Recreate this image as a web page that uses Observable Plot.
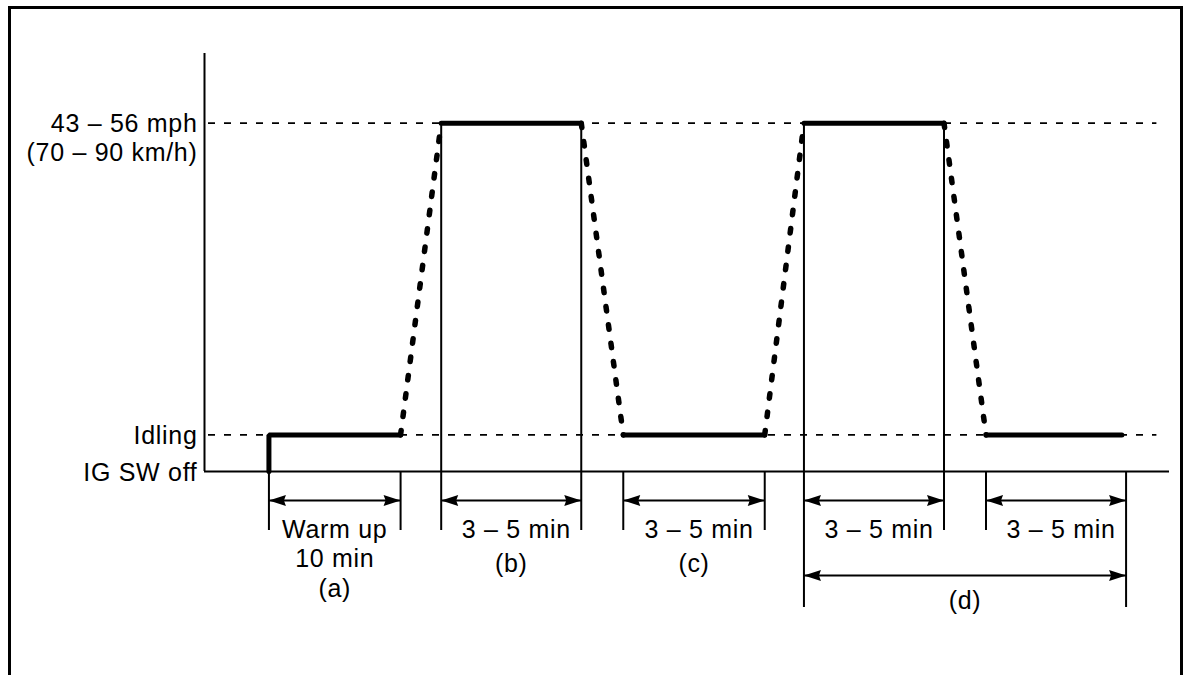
<!DOCTYPE html>
<html><head><meta charset="utf-8">
<script src="https://cdn.jsdelivr.net/npm/d3@7"></script>
<script src="https://cdn.jsdelivr.net/npm/@observablehq/plot@0.6"></script>
<style>
html,body{margin:0;padding:0;background:#fff;overflow:hidden;width:1184px;height:675px;}
#chart{position:absolute;left:0;top:0;}
#chart svg text{letter-spacing:0.7px;}
#frame{position:absolute;left:8px;top:6px;width:1175px;height:720px;border:3px solid #000;border-bottom:none;box-sizing:border-box;pointer-events:none;}
</style></head><body>
<div id="chart"></div><div id="frame"></div>
<script>
// ---- data ----
const levelLabels = ["IG SW off", "Idling", "43 – 56 mph\n(70 – 90 km/h)"];
const levelValues = [0, 8.4, 80];
const refLevels = [8.4, 80];
const profileTime  = [4.6, 4.6, 14.0, 16.9, 26.9, 29.9, 40.0, 42.8, 52.8, 55.8, 65.5];
const profileSpeed = [0, 8.4, 8.4, 80, 80, 8.4, 8.4, 80, 80, 8.4, 8.4];
const spanStart = [4.6, 16.9, 29.9, 42.8, 55.8, 42.8];
const spanEnd   = [14.0, 26.9, 40.0, 52.8, 65.8, 65.8];
const spanRow   = [1, 1, 1, 1, 1, 2];
const spanDuration = ["Warm up\n10 min", "3 – 5 min", "3 – 5 min", "3 – 5 min", "3 – 5 min", ""];
const spanPhase    = ["(a)", "(b)", "(c)", "", "", "(d)"];
const timeMax = 68.9, speedMax = 96, refEnd = 68.0;

// ---- layout ----
const W = 1184, H = 675, mL = 204, mR = 15, mT = 53, mB = 204;
const FS = 25;
const pxPerUnit = (H - mT - mB) / speedMax;
const below = px => -px / pxPerUnit;
const rowArrowPx = {1: 29, 2: 104};
const rowTickPx  = {1: 59, 2: 136};
const durBaselinePx = 66;

const pts = profileTime.map((t, i) => ({t, v: profileSpeed[i]}));
const segs = d3.pairs(pts).map(([a, b]) => ({x1: a.t, y1: a.v, x2: b.t, y2: b.v,
  ramp: a.v > 0 && b.v > 0 && a.v !== b.v}));
let g = 0; const solidPts = [];
segs.forEach(s => {
  if (s.ramp) { g++; return; }
  if (!solidPts.length || solidPts[solidPts.length - 1].g !== g) solidPts.push({t: s.x1, v: s.y1, g});
  solidPts.push({t: s.x2, v: s.y2, g});
});

const spans = spanStart.map((s, i) => ({s, e: spanEnd[i], row: spanRow[i],
  dur: spanDuration[i], phase: spanPhase[i], mid: (s + spanEnd[i]) / 2}));

const edgeMap = new Map();
spans.forEach(d => [d.s, d.e].forEach(t => {
  const px = rowTickPx[d.row];
  const prev = edgeMap.get(t);
  const high = pts.some(p => p.t === t && p.v === levelValues[2]);
  edgeMap.set(t, {t, top: high ? levelValues[2] : 0, bottom: below(Math.max(px, prev ? -prev.bottom * pxPerUnit : 0))});
}));
const edges = [...edgeMap.values()];

const heads = spans.flatMap(d => [
  {x: d.s, y: below(rowArrowPx[d.row]), rot: 0},
  {x: d.e, y: below(rowArrowPx[d.row]), rot: 180}
]);
const arrowHead = {draw(ctx) { ctx.moveTo(0, 0); ctx.lineTo(17, -5.5); ctx.lineTo(15, 0); ctx.lineTo(17, 5.5); ctx.closePath(); }};

const nLines = d => d.dur.split("\n").length;
const phaseBaseline = d => d.row === 2 ? 137 : durBaselinePx + (nLines(d) === 1 ? 34 : 59);
const levels = levelValues.map((v, i) => ({v, label: levelLabels[i]}));
const durOpts = {x: "mid", y: 0, text: "dur", fontSize: FS, lineAnchor: "top", lineHeight: 1.18, dy: durBaselinePx - 0.71 * 1.18 * FS};

const chart = Plot.plot({
  width: W, height: H,
  marginLeft: mL, marginRight: mR, marginTop: mT, marginBottom: mB,
  x: {domain: [0, timeMax], axis: null},
  y: {domain: [0, speedMax], axis: null},
  style: {fontFamily: "'Liberation Sans', Arial, Helvetica, sans-serif", fontSize: FS + "px", color: "#000", background: "transparent"},
  marks: [
    Plot.ruleY(refLevels, {y: d => d, x1: 0, x2: refEnd, strokeWidth: 1.7, strokeDasharray: "7,9", strokeDashoffset: -4}),
    Plot.ruleX([0], {y1: 0, y2: speedMax, strokeWidth: 2}),
    Plot.ruleY([0], {x1: 0, x2: timeMax, strokeWidth: 2}),
    Plot.ruleX(edges, {x: "t", y1: "top", y2: "bottom", strokeWidth: 2}),
    Plot.link(segs.filter(s => s.ramp), {x1: "x1", y1: "y1", x2: "x2", y2: "y2", strokeWidth: 5.5, strokeDasharray: "4.5,14", strokeLinecap: "round"}),
    Plot.line(solidPts, {x: "t", y: "v", z: "g", strokeWidth: 5, strokeLinejoin: "miter", strokeLinecap: "round"}),
    Plot.link(spans, {x1: "s", x2: "e", y1: d => below(rowArrowPx[d.row]), y2: d => below(rowArrowPx[d.row]), strokeWidth: 2}),
    Plot.dot(heads, {x: "x", y: "y", rotate: "rot", symbol: arrowHead, fill: "#000", stroke: "none"}),
    Plot.text(spans.filter(d => d.dur && nLines(d) > 1), durOpts),
    Plot.text(spans.filter(d => d.dur && nLines(d) === 1), {...durOpts, dx: 5}),
    Plot.text(spans.filter(d => d.phase), {x: "mid", y: d => below(phaseBaseline(d)), text: "phase", fontSize: FS, lineAnchor: "bottom"}),
    Plot.text(levels, {x: 0, y: "v", text: "label", fontSize: FS, textAnchor: "end", dx: -7, lineAnchor: "top", lineHeight: 1.16, dy: 9 - 0.71 * 1.16 * FS})
  ]
});
document.getElementById("chart").appendChild(chart);
</script></body></html>
